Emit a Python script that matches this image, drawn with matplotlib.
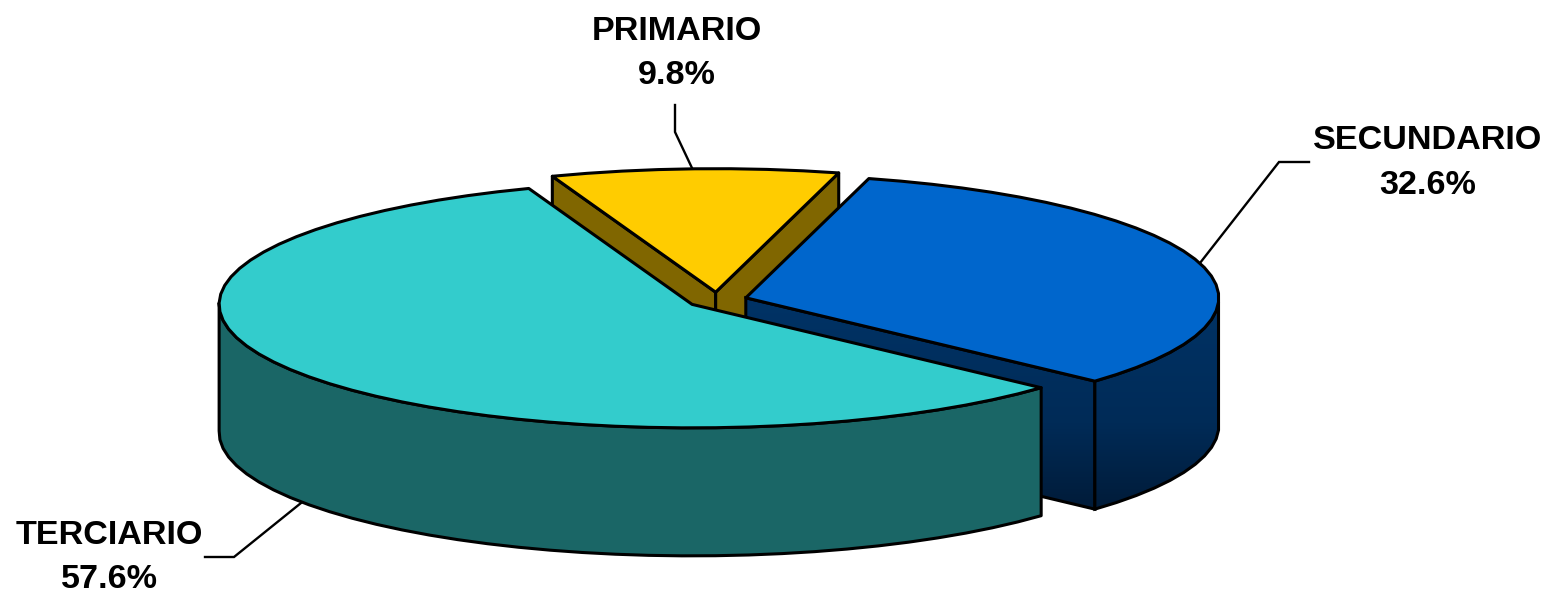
import numpy as np
import matplotlib
matplotlib.use("Agg")
import matplotlib.pyplot as plt
from matplotlib.patches import Polygon
from matplotlib.colors import LinearSegmentedColormap

categories = ["PRIMARIO", "SECUNDARIO", "TERCIARIO"]
shares = [9.8, 32.6, 57.6]

W, H = 1553, 594
CX, CY = 717.0, 300.0
RX, RY = 473.0, 123.5
DEPTH = 128.0
EXPLODE = 30.0
FIRST_ANGLE = 110.2   # the pie runs clockwise from here
LW = 2.2

top_colors = {"PRIMARIO": "#FFCC00", "SECUNDARIO": "#0066CC", "TERCIARIO": "#33CCCC"}
side_colors = {"PRIMARIO": "#806600", "TERCIARIO": "#1A6666"}
blue_side = LinearSegmentedColormap.from_list("side", ["#003366", "#002B57", "#00142B"])

label_pos = {"PRIMARIO": (677, 53.5), "SECUNDARIO": (1428, 163), "TERCIARIO": (109, 557.5)}
leaders = {
    "PRIMARIO": ([692, 675, 675], [168, 132, 105]),
    "SECUNDARIO": ([1200, 1279, 1309], [263, 162, 162]),
    "TERCIARIO": ([301, 234, 205], [503, 557, 557]),
}

fig = plt.figure(figsize=(W / 100, H / 100), dpi=100)
ax = fig.add_axes([0, 0, 1, 1])
ax.set_xlim(0, W)
ax.set_ylim(H, 0)
ax.axis("off")


def geometry():
    geo = {}
    start = FIRST_ANGLE
    for name, val in zip(categories, shares):
        sweep = val / sum(shares) * 360
        end = start - sweep
        mid = np.radians((start + end) / 2)
        c = np.array([CX + EXPLODE * np.cos(mid), CY - EXPLODE * RY / RX * np.sin(mid)])
        n = max(int(sweep / 4), 2)
        th = np.radians(np.linspace(start, end, n + 1))
        arc = np.column_stack([c[0] + RX * np.cos(th), c[1] - RY * np.sin(th)])
        geo[name] = dict(c=c, arc=arc, th=th)
        start = end
    return geo


geo = geometry()
drop = np.array([0, DEPTH])


def quad(a, b):
    return np.array([a, b, b + drop, a + drop])


def outer_wall(arc, th):
    keep = np.sin(th) <= 0.02
    pts = arc[keep]
    return np.vstack([pts, (pts + drop)[::-1]])


def poly(pts, fc, z):
    p = Polygon(pts, closed=True, facecolor=fc, edgecolor="black", lw=LW, joinstyle="round", zorder=z)
    ax.add_patch(p)
    return p


def grad_poly(pts, z):
    p = Polygon(pts, closed=True, facecolor="none", edgecolor="none", zorder=z)
    ax.add_patch(p)
    y0 = geo["SECUNDARIO"]["c"][1]
    im = ax.imshow(np.linspace(0, 1, 256)[:, None], cmap=blue_side, aspect="auto",
                   extent=(0, W, y0 + RY + DEPTH, y0), zorder=z, vmin=0, vmax=1)
    im.set_clip_path(p)
    ax.add_patch(Polygon(pts, closed=True, facecolor="none", edgecolor="black", lw=LW, zorder=z + 0.1))


# primary: two inner walls, then the top
g = geo["PRIMARIO"]
poly(quad(g["c"], g["arc"][0]), side_colors["PRIMARIO"], 1)
poly(quad(g["c"], g["arc"][-1]), side_colors["PRIMARIO"], 1)
poly(np.vstack([g["c"], g["arc"]]), top_colors["PRIMARIO"], 2)

# secondary: inner wall, outer wall, top
g = geo["SECUNDARIO"]
grad_poly(quad(g["c"], g["arc"][-1]), 3)
grad_poly(outer_wall(g["arc"], g["th"]), 3.2)
poly(np.vstack([g["c"], g["arc"]]), top_colors["SECUNDARIO"], 4)

# tertiary: outer wall, top
g = geo["TERCIARIO"]
poly(outer_wall(g["arc"], g["th"]), side_colors["TERCIARIO"], 5)
poly(np.vstack([g["c"], g["arc"]]), top_colors["TERCIARIO"], 6)

for name, val in zip(categories, shares):
    xs, ys = leaders[name]
    ax.plot(xs, ys, color="black", lw=1.7, zorder=1.5 if name == "PRIMARIO" else 0.5,
            solid_joinstyle="miter")
    x, y = label_pos[name]
    ax.text(x, y, f"{name}\n{val:.1f}%", ha="center", va="center", fontsize=24.6,
            fontweight="bold", family="Liberation Sans", color="black", linespacing=1.58, zorder=10)

fig.savefig("out.png", dpi=100, facecolor="white")
